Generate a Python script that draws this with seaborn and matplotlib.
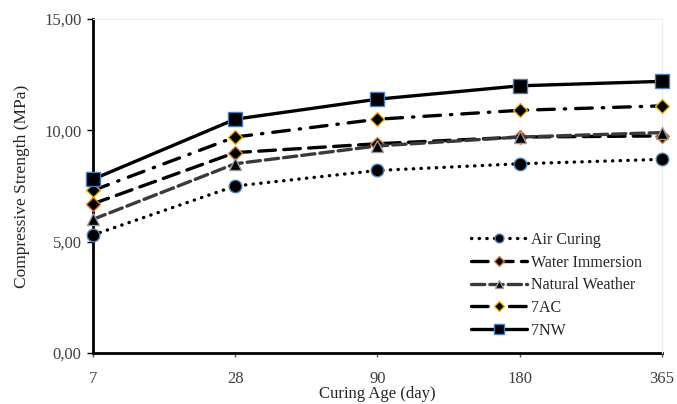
import numpy as np
import pandas as pd
import matplotlib
matplotlib.use('Agg')
import matplotlib.pyplot as plt
import seaborn as sns
from matplotlib.ticker import FuncFormatter

# Curing ages (categorical axis)
ages = ['7', '28', '90', '180', '365']

# Compressive strength (MPa) per curing method
air_curing = [5.3, 7.5, 8.2, 8.5, 8.7]
water_immersion = [6.7, 9.0, 9.4, 9.7, 9.75]
natural_weather = [6.0, 8.5, 9.3, 9.7, 9.9]
ac7 = [7.3, 9.7, 10.5, 10.9, 11.1]
nw7 = [7.8, 10.5, 11.4, 12.0, 12.2]

series_names = ['Air Curing', 'Water Immersion', 'Natural Weather', '7AC', '7NW']
series_values = [air_curing, water_immersion, natural_weather, ac7, nw7]

sns.set_style('white')
plt.rcParams['font.family'] = ['Liberation Serif', 'DejaVu Serif']

fig = plt.figure(figsize=(6.77, 4.04), dpi=100)
ax = fig.add_axes([0.137, 0.126, 0.841, 0.827])

styles = {
    'Air Curing': dict(color='black', ls=(0, (0.1, 2.2)), marker='o', mec='#4a7ebb', ms=9, lw=2.4),
    'Water Immersion': dict(color='black', ls=(0, (5, 2.5)), marker='D', mec='#e07b39', ms=7, lw=2.4),
    'Natural Weather': dict(color='#3a3a3a', ls=(0, (4, 1.5)), marker='^', mec='#9a9a9a', ms=9, lw=2.4),
    '7AC': dict(color='black', ls=(0, (5, 3, 0.4, 3)), marker='D', mec='#f0b400', ms=7, lw=2.4),
    '7NW': dict(color='black', ls='-', marker='s', mec='#4a7ebb', ms=10, lw=2.4),
}

x_pos = np.arange(len(ages))
for name, vals in zip(series_names, series_values):
    st = styles[name]
    sns.lineplot(x=x_pos, y=vals, ax=ax, color=st['color'], linestyle=st['ls'],
                 linewidth=st['lw'], marker=st['marker'], markersize=st['ms'],
                 markerfacecolor='black', markeredgecolor=st['mec'],
                 markeredgewidth=1.0, label=name, dash_capstyle='round',
                 clip_on=False, zorder=3)

ax.set_xlim(0, len(ages) - 1)
ax.set_ylim(0, 15)
ax.set_xticks(x_pos)
ax.set_xticklabels(ages)
ax.set_yticks([0, 5, 10, 15])
ax.yaxis.set_major_formatter(FuncFormatter(lambda v, p: f'{v:.2f}'.replace('.', ',')))

ax.set_xlabel('Curing Age (day)', fontsize=12, labelpad=-1)
ax.set_ylabel('Compressive Strength (MPa)', fontsize=12.5, labelpad=10)
ax.tick_params(axis='both', labelsize=12, labelcolor='#404040', direction='out',
               length=4, width=1, left=True, bottom=True, color='black')
ax.tick_params(axis='x', pad=10, length=3, color='#555555')
ax.tick_params(axis='y', pad=4)

for s in ['left', 'bottom']:
    ax.spines[s].set_color('black')
    ax.spines[s].set_linewidth(2)
    ax.spines[s].set_zorder(2)
for s in ['top', 'right']:
    ax.spines[s].set_color('#ececec')
    ax.spines[s].set_linewidth(0.8)

leg = ax.legend(loc='lower right', bbox_to_anchor=(0.99, 0.0), frameon=False,
                fontsize=11.5, handlelength=3.5, handletextpad=0.25, labelspacing=0.42,
                markerscale=0.7)

fig.savefig('out.png', dpi=100)
